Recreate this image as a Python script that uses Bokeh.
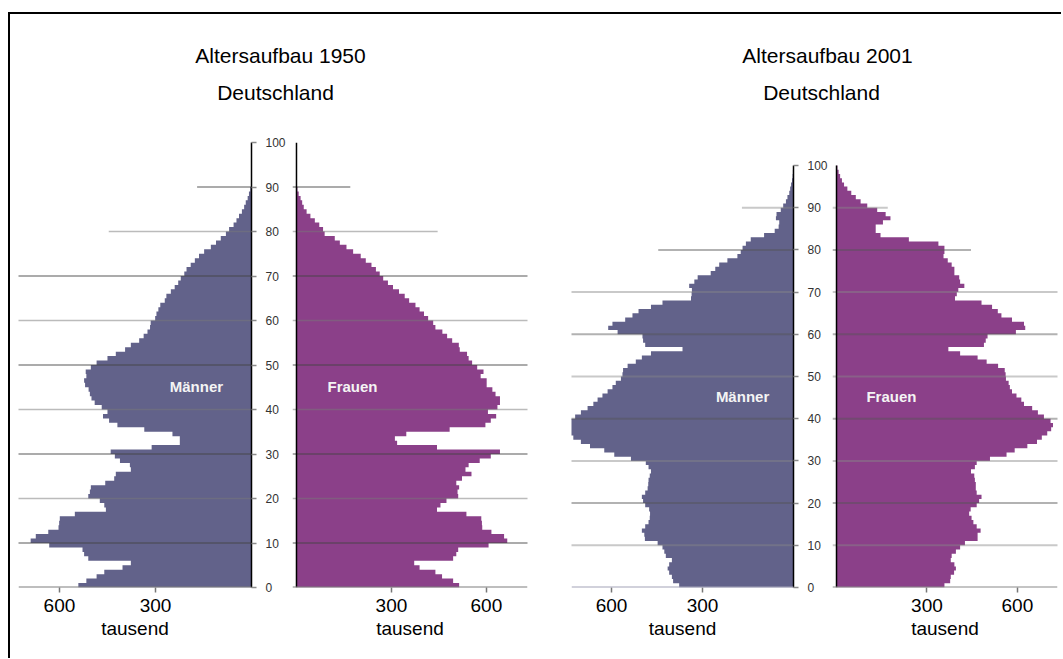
from bokeh.plotting import figure
from bokeh.layouts import row, column
from bokeh.models import Range1d, LinearAxis, FixedTicker, Span, Label, ColumnDataSource
from bokeh.embed import file_html
from bokeh.resources import INLINE

# ---------------- data (thousand persons per single year of age) ----------------
ages_1950 = list(range(0, 90))
maenner_1950 = [541, 516, 484, 460, 403, 377, 510, 523, 528, 632,
                690, 674, 635, 603, 601, 599, 552, 455, 460, 474,
                510, 505, 502, 457, 429, 424, 377, 380, 411, 427,
                440, 312, 224, 224, 247, 335, 419, 445, 464, 450,
                468, 490, 500, 505, 509, 520, 523, 516, 518, 502,
                484, 450, 424, 395, 377, 351, 337, 325, 317, 315,
                301, 297, 291, 285, 271, 266, 252, 240, 229, 221,
                210, 203, 190, 177, 164, 148, 127, 111, 96, 80,
                70, 56, 47, 39, 30, 23, 18, 12, 8, 4]
frauen_1950 = [514, 495, 460, 439, 389, 372, 495, 505, 511, 607,
               666, 656, 616, 587, 586, 584, 537, 444, 455, 474,
               511, 509, 514, 505, 523, 553, 534, 544, 579, 614,
               643, 444, 318, 311, 347, 484, 597, 614, 631, 605,
               635, 643, 643, 629, 619, 601, 601, 582, 591, 571,
               555, 544, 539, 516, 513, 492, 476, 461, 439, 432,
               416, 403, 389, 376, 356, 342, 324, 305, 289, 274,
               263, 251, 237, 219, 203, 179, 158, 137, 121, 89,
               84, 72, 58, 44, 32, 23, 18, 13, 7, 3]

ages_2001 = list(range(0, 100))
maenner_2001 = [377, 397, 401, 410, 415, 410, 401, 421, 426, 432,
                448, 490, 492, 500, 489, 478, 474, 473, 476, 489,
                496, 500, 489, 481, 479, 478, 474, 470, 478, 487,
                536, 591, 624, 671, 701, 726, 742, 748, 750, 740,
                720, 701, 679, 660, 646, 630, 613, 597, 586, 569,
                564, 562, 547, 520, 500, 470, 366, 489, 496, 498,
                580, 611, 597, 555, 531, 511, 470, 432, 338, 336,
                335, 344, 327, 316, 273, 258, 245, 218, 185, 174,
                168, 157, 141, 97, 62, 49, 47, 58, 56, 42,
                34, 25, 20, 14, 11, 8, 5, 3, 2, 1]
frauen_2001 = [358, 377, 379, 390, 396, 391, 379, 382, 396, 410,
               426, 468, 468, 478, 465, 454, 448, 440, 445, 465,
               473, 481, 465, 462, 462, 459, 457, 446, 459, 465,
               509, 564, 591, 633, 665, 681, 699, 712, 718, 710,
               688, 668, 649, 622, 613, 597, 582, 575, 571, 562,
               561, 558, 536, 498, 468, 410, 371, 489, 495, 501,
               595, 626, 622, 582, 547, 535, 516, 481, 393, 399,
               404, 424, 410, 407, 391, 391, 382, 369, 355, 358,
               358, 338, 240, 146, 130, 130, 154, 179, 163, 135,
               102, 80, 64, 49, 36, 25, 18, 12, 7, 3]

age_ticks = [0, 10, 20, 30, 40, 50, 60, 70, 80, 90, 100]
value_ticks = [300, 600]
grid_ages = [10, 20, 30, 40, 50, 60, 70, 80, 90]

titles = ["Altersaufbau 1950", "Altersaufbau 2001"]
subtitle = "Deutschland"
unit_label = "tausend"
sex_labels = ["Männer", "Frauen"]

# ---------------- styles ----------------
FONT = "Liberation Sans"
MALE = "#62628a"
FEMALE = "#8b4089"
H = 532          # figure height (all four share the same frame)
TOP, BOTTOM = 22, 65


def grid_extent(xmax):
    # full-width lines up to 70, shorter lines at 80 and 90
    return [xmax * 1.2 if g <= 70 else (446 if g == 80 else 170) for g in grid_ages]


def half(ages, vals, color, male, x_lo, xmax, y_top, fig_w, left, right,
         bounds, grid_cols, grid_alpha, grid_w, base_color, name, name_x, name_y):
    xr = Range1d(xmax, x_lo) if male else Range1d(x_lo, xmax)
    p = figure(width=fig_w, height=H, x_range=xr, y_range=Range1d(0, y_top),
               x_axis_location=None, y_axis_location=None, toolbar_location=None,
               output_backend="svg", title=None,
               min_border_left=left, min_border_right=right,
               min_border_top=TOP, min_border_bottom=BOTTOM,
               outline_line_color=None, background_fill_color=None,
               border_fill_color=None)
    p.grid.visible = False

    # one bar per single year of age [a, a+1], drawn as one stepped area
    step_y = list(ages) + [ages[-1] + 1]
    step_x = list(vals) + [vals[-1]]
    if hasattr(p, "harea_step"):
        src = ColumnDataSource(dict(y=step_y, x2=step_x, x1=[0] * len(step_y)))
        p.harea_step(x1="x1", x2="x2", y="y", step_mode="after", source=src,
                     fill_color=color)
    else:
        src = ColumnDataSource(dict(age=[a + 0.5 for a in ages], val=vals))
        p.hbar(y="age", height=1.1, left=0, right="val", source=src,
               fill_color=color, line_color=None)

    gsrc = ColumnDataSource(dict(y=grid_ages, x1=grid_extent(xmax),
                                 c=grid_cols, a=grid_alpha))
    p.segment(x0=x_lo, y0="y", x1="x1", y1="y", source=gsrc,
              line_color="c", line_alpha="a", line_width=grid_w)

    p.add_layout(Span(location=0, dimension="width", line_color=base_color,
                      line_width=2))

    xa = LinearAxis(ticker=FixedTicker(ticks=value_ticks), bounds=bounds,
                    axis_label=unit_label, axis_line_color=None,
                    major_tick_in=0, major_tick_out=5,
                    major_tick_line_color="#777777", major_tick_line_width=1.5,
                    minor_tick_line_color=None,
                    major_label_text_font=FONT, major_label_text_font_size="19px",
                    major_label_text_color="#000000", major_label_standoff=6,
                    axis_label_text_font=FONT, axis_label_text_font_size="19px",
                    axis_label_text_font_style="normal",
                    axis_label_text_color="#000000", axis_label_standoff=3)
    p.add_layout(xa, "below")

    if male:
        ya = LinearAxis(ticker=FixedTicker(ticks=age_ticks),
                        bounds=(age_ticks[0], age_ticks[-1]),
                        axis_line_color="#000000", axis_line_width=1.5,
                        major_tick_in=0, major_tick_out=5,
                        major_tick_line_color="#8a8a8a", major_tick_line_width=1.5,
                        minor_tick_line_color=None,
                        major_label_text_font=FONT, major_label_text_font_size="12px",
                        major_label_text_color="#333333", major_label_standoff=9)
        p.add_layout(ya, "right")
    else:
        # vertical axis line of the women's half
        p.segment(x0=[0], y0=[age_ticks[0]], x1=[0], y1=[age_ticks[-1]],
                  line_color="#000000", line_width=1.5)

    p.add_layout(Label(x=name_x, y=name_y, text=name, text_align="center",
                       text_baseline="middle", text_color="#f4f4f4",
                       text_font=FONT, text_font_style="bold",
                       text_font_size="15px"))
    return p


g1950_cols = ["#444444", "#777777"] * 4 + ["#444444"]
g1950_alpha = [0.6, 0.5] * 4 + [0.6]
g2001_cols = ["#888888", "#555555"] * 4 + ["#888888"]
g2001_alpha = [0.45, 0.45] * 4 + [0.45]

Y1950 = 100
Y2001 = 105.45   # 2001 chart is drawn with a slightly smaller vertical scale

f1m = half(ages_1950, maenner_1950, MALE, True, 0, 728, Y1950, 281, 8, 40,
           (195, 728), g1950_cols, g1950_alpha, 1.5, "#7f7f7f",
           sex_labels[0], 172, 45.2)
f1f = half(ages_1950, frauen_1950, FEMALE, False, -12.6, 730, Y1950, 240, 1, 4,
           (142, 730), g1950_cols, g1950_alpha, 1.5, "#7f7f7f",
           sex_labels[1], 177, 45.2)
f2m = half(ages_2001, maenner_2001, MALE, True, 0, 732, Y2001, 300, 40, 38,
           (158, 732), g2001_cols, g2001_alpha, 2, "#a4a4b8",
           sex_labels[0], 168, 45.3)
f2f = half(ages_2001, frauen_2001, FEMALE, False, -13.3, 733, Y2001, 230, 1, 4,
           (223, 733), g2001_cols, g2001_alpha, 2, "#8a8a8a",
           sex_labels[1], 182, 45.3)

# header with the titles (coordinates in page pixels)
hdr = figure(width=1051, height=106, x_range=Range1d(10, 1061),
             y_range=Range1d(120, 14), x_axis_location=None, y_axis_location=None,
             toolbar_location=None, output_backend="svg", title=None,
             min_border=0, outline_line_color=None,
             background_fill_color=None, border_fill_color=None)
hdr.grid.visible = False
for tx, cx, by in [(titles[0], 280, 55), (subtitle, 275, 92),
                   (titles[1], 827, 55), (subtitle, 821, 92)]:
    hdr.add_layout(Label(x=cx, y=by, text=tx, text_align="center",
                         text_baseline="alphabetic", text_font=FONT,
                         text_font_size="21px", text_color="#000000"))

root = column(hdr, row(f1m, f1f, f2m, f2f),
              styles={"border-left": "2px solid #000000",
                      "border-top": "2px solid #000000",
                      "margin-top": "12px", "margin-left": "8px",
                      "padding-bottom": "6px"})

open("out.html", "w").write(file_html(root, INLINE))
